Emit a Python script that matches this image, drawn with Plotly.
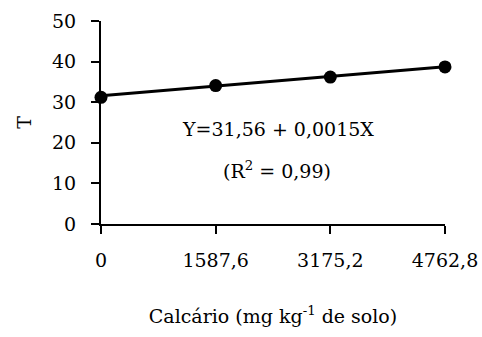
import plotly.graph_objects as go

doses = [0, 1587.6, 3175.2, 4762.8]
dose_labels = ["0", "1587,6", "3175,2", "4762,8"]
t_values = [31.2, 34.1, 36.2, 38.7]
intercept = 31.56
slope = 0.0015
y_ticks = [0, 10, 20, 30, 40, 50]

fit = [intercept + slope * d for d in doses]
FONT = "DejaVu Serif"
FS = 19

fig = go.Figure()
fig.add_trace(go.Scatter(x=doses, y=fit, mode="lines",
                         line=dict(color="black", width=3), cliponaxis=False,
                         hoverinfo="skip"))
fig.add_trace(go.Scatter(x=doses, y=t_values, mode="markers",
                         marker=dict(color="black", size=13), cliponaxis=False))

fig.add_annotation(x=2450, y=23.5, xref="x", yref="y", showarrow=False,
                   text="Y=31,56 + 0,0015X", font=dict(family=FONT, size=FS, color="black"))
fig.add_annotation(x=2430, y=13.3, xref="x", yref="y", showarrow=False,
                   text="(R<sup>2</sup> = 0,99)", font=dict(family=FONT, size=FS, color="black"))

fig.update_layout(
    width=482, height=337,
    margin=dict(l=101, r=37, t=21, b=113),
    paper_bgcolor="white", plot_bgcolor="white",
    showlegend=False,
    font=dict(family=FONT, size=FS, color="black"),
    xaxis=dict(range=[0, 4762.8], tickvals=doses, ticktext=dose_labels,
               automargin=False,
               showgrid=False, zeroline=False, showline=True, linecolor="black",
               linewidth=2, ticks="outside", ticklen=8, tickwidth=2, tickcolor="black",
               ticklabelstandoff=10,
               title=dict(text="Calcário (mg kg<sup>-1</sup> de solo)", standoff=40,
                          font=dict(family=FONT, size=FS))),
    yaxis=dict(range=[0, 50], tickvals=y_ticks,
               automargin=False,
               showgrid=False, zeroline=False, showline=True, linecolor="black",
               linewidth=2, ticks="outside", ticklen=8, tickwidth=2, tickcolor="black",
               ticklabelstandoff=11,
               title=dict(text="T", standoff=15, font=dict(family=FONT, size=FS))),
)

fig.write_html("out.html", config={"displayModeBar": False},
               post_script="document.body.style.margin='0';document.body.style.overflow='hidden';")
